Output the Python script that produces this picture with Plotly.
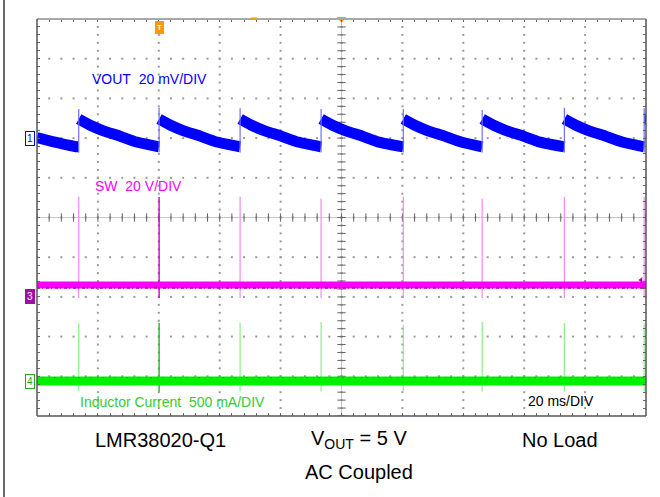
import plotly.graph_objects as go

# ---------------- values read from the scope capture ----------------
# time of each VOUT jump / SW pulse / inductor-current pulse (ms)
jump_times_ms = [13.7, 40.1, 66.7, 93.3, 120.3, 146.2, 173.2, 199.4]
# VOUT before first pulse (ms, mV, AC coupled)
lead_t_ms = [0.0, 5.9, 13.4]
lead_vout_mv = [0.3, -2.0, -4.4]
# VOUT decay after each pulse (offset from pulse, ms) and level (mV)
cycle_offset_ms = [0.0, 3.6, 7.9, 13.5, 19.0, 25.6]
cycle_vout_mv = [9.6, 6.6, 3.8, 1.0, -2.0, -4.4]
vout_spike_mv = [14.7, 15.3, 15.0, 14.7, 14.7, 14.2, 15.3, 15.0]
# SW node (V)
sw_baseline_v = 6.0
sw_spike_top_v = [50.4, 50.3, 50.4, 49.5, 50.4, 49.5, 50.4, 50.4]
sw_spike_bottom_v = -0.5
# inductor current (mA)
il_baseline_ma = 0.0
il_spike_top_ma = [727, 735, 731, 744, 702, 744, 727, 727]
il_spike_bottom_ma = -131

# scope settings
T_END = 200.0            # 10 div x 20 ms/div
CH1_OFF, CH1_SCALE = 2.0, 20.0     # div, mV/div
CH3_OFF, CH3_SCALE = -2.0, 20.0    # div, V/div
CH4_OFF, CH4_SCALE = -4.12, 500.0  # div, mA/div
TRIG_T = 40.3


def ch1(v):
    return CH1_OFF + v / CH1_SCALE


def ch3(v):
    return CH3_OFF + v / CH3_SCALE


def ch4(v):
    return CH4_OFF + v / CH4_SCALE


# ---------------- geometry helpers (pixels of the 660x497 page) ----------------
L, R, T, B = 37, 646, 19, 416
PW, PH = R - L, B - T
PX_DIV_Y = PH / 10.0


def px_t(px):
    return (px - L) / PW * T_END


def py_d(py):
    return 5 - (py - T) / PH * 10


def pxp(px):
    return (px - L) / PW


def pyp(py):
    return (B - py) / PH


fig = go.Figure()

# ---- graticule dots ----
gx, gy = [], []
for k in range(1, 10):
    xv = k * 20.0
    for j in range(0, 51):
        gx.append(xv)
        gy.append(-5 + j * 0.2)
for k in range(-4, 5):
    for j in range(0, 51):
        gx.append(j * 4.0)
        gy.append(float(k))
fig.add_trace(go.Scatter(x=gx, y=gy, mode="markers", hoverinfo="skip",
                         marker=dict(symbol="square", size=2, color="#9a9a9a", line=dict(width=0)),
                         showlegend=False))
# center-line ticks
cx = [j * 4.0 for j in range(51)]
fig.add_trace(go.Scatter(x=cx, y=[0] * len(cx), mode="markers", hoverinfo="skip",
                         marker=dict(symbol="line-ns", size=6, line=dict(width=1, color="#666")),
                         showlegend=False))
cy = [-5 + j * 0.2 for j in range(51)]
fig.add_trace(go.Scatter(x=[100] * len(cy), y=cy, mode="markers", hoverinfo="skip",
                         marker=dict(symbol="line-ew", size=6, line=dict(width=1, color="#666")),
                         showlegend=False))

# ---- SW and inductor-current spikes ----
def spikes(tops, bottom, conv, dim, bright, name):
    xd, yd, xb, yb = [], [], [], []
    for i, (t, top) in enumerate(zip(jump_times_ms, tops)):
        if i == 1:
            xb += [t, t, None]
            yb += [conv(bottom), conv(top), None]
        else:
            xd += [t, t, None]
            yd += [conv(bottom), conv(top), None]
    fig.add_trace(go.Scatter(x=xd, y=yd, mode="lines", line=dict(color=dim, width=1.2),
                             hoverinfo="skip", showlegend=False, name=name))
    fig.add_trace(go.Scatter(x=xb, y=yb, mode="lines", line=dict(color=bright, width=1.4),
                             hoverinfo="skip", showlegend=False, name=name))


spikes(sw_spike_top_v, sw_spike_bottom_v, ch3, "#f08af0", "#cc00cc", "SW")
spikes(il_spike_top_ma, il_spike_bottom_ma, ch4, "#8cec8c", "#22b822", "IL")

# ---- baselines (thick noisy bands) ----
sw_y = ch3(sw_baseline_v)
fig.add_trace(go.Scatter(x=[0, T_END], y=[sw_y] * 2, mode="lines",
                         line=dict(color="#ff00ff", width=7), hoverinfo="skip", showlegend=False))
fig.add_trace(go.Scatter(x=[0, T_END], y=[sw_y - 3.0 / PX_DIV_Y] * 2, mode="lines",
                         line=dict(color="#9a1c9a", width=1.6, dash="3px,2px,1px,3px"),
                         hoverinfo="skip", showlegend=False))
il_y = ch4(il_baseline_ma)
fig.add_trace(go.Scatter(x=[0, T_END], y=[il_y] * 2, mode="lines",
                         line=dict(color="#00f000", width=9), hoverinfo="skip", showlegend=False))
fig.add_trace(go.Scatter(x=[0, T_END], y=[il_y + 3.5 / PX_DIV_Y] * 2, mode="lines",
                         line=dict(color="#28b028", width=1, dash="1px,4px,2px,5px"),
                         hoverinfo="skip", showlegend=False))

# ---- VOUT ----
vx = list(lead_t_ms) + [jump_times_ms[0], None]
vy = [ch1(v) for v in lead_vout_mv] + [ch1(lead_vout_mv[-1]), None]
for i, t0 in enumerate(jump_times_ms):
    t_next = jump_times_ms[i + 1] if i + 1 < len(jump_times_ms) else T_END
    seg_x, seg_y = [], []
    for o, v in zip(cycle_offset_ms[:-1], cycle_vout_mv[:-1]):
        if t0 + o < t_next:
            seg_x.append(t0 + o)
            seg_y.append(ch1(v))
    if i + 1 < len(jump_times_ms):
        seg_x.append(t_next)
        seg_y.append(ch1(cycle_vout_mv[-1]))
    else:
        seg_x.append(T_END)
        seg_y.append(seg_y[-1])
    vx += seg_x + [None]
    vy += seg_y + [None]
fig.add_trace(go.Scatter(x=vx, y=vy, mode="lines", connectgaps=False,
                         line=dict(color="#0000ff", width=11, shape="spline", smoothing=0.6),
                         hoverinfo="skip", showlegend=False))
jx, jy = [], []
for t, sp in zip(jump_times_ms, vout_spike_mv):
    jx += [t, t, None]
    jy += [ch1(cycle_vout_mv[-1]) - 0.14, ch1(sp), None]
fig.add_trace(go.Scatter(x=jx, y=jy, mode="lines", line=dict(color="#6f6fff", width=1.2),
                         hoverinfo="skip", showlegend=False))

# ---- small markers ----
fig.add_trace(go.Scatter(x=[100], y=[5], mode="markers", cliponaxis=False, hoverinfo="skip",
                         marker=dict(symbol="triangle-down", size=8, color="#ff9900"), showlegend=False))
fig.add_trace(go.Scatter(x=[px_t(641)], y=[py_d(280)], mode="markers", cliponaxis=False, hoverinfo="skip",
                         marker=dict(symbol="triangle-left", size=5, color="#a0109f"), showlegend=False))

# ---- frame ----
shapes = [
    dict(type="line", xref="paper", yref="paper", x0=0, x1=1, y0=1, y1=1, line=dict(color="#a8a8a8", width=2)),
    dict(type="line", xref="paper", yref="paper", x0=0, x1=1, y0=0, y1=0, line=dict(color="#555", width=1.5)),
    dict(type="line", xref="paper", yref="paper", x0=0, x1=0, y0=0, y1=1, line=dict(color="#555", width=1.5)),
    dict(type="line", xref="paper", yref="paper", x0=1, x1=1, y0=0, y1=1, line=dict(color="#555", width=1.5)),
    dict(type="line", xref="x", yref="y", x0=100, x1=100, y0=-5, y1=5, line=dict(color="#c8c8c8", width=1), layer="below"),
    dict(type="line", xref="x", yref="y", x0=0, x1=200, y0=0, y1=0, line=dict(color="#c8c8c8", width=1), layer="below"),
    dict(type="line", xref="paper", yref="paper", x0=pxp(4), x1=pxp(4), y0=pyp(497), y1=pyp(0),
         line=dict(color="#6a6a6a", width=2)),
    dict(type="line", xref="paper", yref="paper", x0=pxp(251), x1=pxp(257), y0=pyp(18.5), y1=pyp(18.5),
         line=dict(color="#ff9900", width=2)),
]

FONT = "Liberation Sans, Arial, sans-serif"
ann = []


def txt(text, x, y, color, size, xref="x", yref="y", **kw):
    ann.append(dict(text=text, x=x, y=y, xref=xref, yref=yref, showarrow=False,
                    xanchor="center", yanchor="middle",
                    font=dict(family=FONT, size=size, color=color), **kw))


txt("VOUT\u00a0 20 mV/DIV", px_t(149), py_d(79), "#0000ff", 14)
txt("SW\u00a0 20 V/DIV", px_t(138), py_d(186), "#ff00ff", 14)
txt("Inductor Current\u00a0 500 mA/DIV", px_t(172), py_d(401.5), "#33cc33", 14)
txt("20 ms/DIV", px_t(560.5), py_d(401), "#000000", 14)

txt("LMR38020-Q1", pxp(160), pyp(440), "#000000", 20, xref="paper", yref="paper")
txt("V<sub>OUT</sub> = 5 V", pxp(359), pyp(440), "#000000", 20, xref="paper", yref="paper")
txt("No Load", pxp(560), pyp(440), "#000000", 20, xref="paper", yref="paper")
txt("AC Coupled", pxp(359), pyp(472), "#000000", 20, xref="paper", yref="paper")

# channel markers
ann.append(dict(text="1", x=0, y=CH1_OFF, xref="x", yref="y", xanchor="right", xshift=-2, showarrow=False,
                font=dict(family=FONT, size=10, color="#0000ff"), bgcolor="white",
                bordercolor="#0000ff", borderwidth=1, borderpad=1))
ann.append(dict(text="3", x=0, y=CH3_OFF, xref="x", yref="y", xanchor="right", xshift=-2, showarrow=False,
                font=dict(family=FONT, size=10, color="white"), bgcolor="#a0109f",
                bordercolor="#a0109f", borderwidth=1, borderpad=1))
ann.append(dict(text="4", x=0, y=CH4_OFF, xref="x", yref="y", xanchor="right", xshift=-2, showarrow=False,
                font=dict(family=FONT, size=10, color="#22aa22"), bgcolor="white",
                bordercolor="#22aa22", borderwidth=1, borderpad=1))
ann.append(dict(text="<b>T</b>", x=TRIG_T, y=py_d(27.5), xref="x", yref="y", showarrow=False,
                font=dict(family=FONT, size=8, color="white"), bgcolor="#ff9900",
                bordercolor="#ff9900", borderwidth=1, borderpad=1))

fig.update_layout(
    width=660, height=497,
    margin=dict(l=L, r=660 - R, t=T, b=497 - B),
    paper_bgcolor="white", plot_bgcolor="white",
    showlegend=False,
    shapes=shapes, annotations=ann,
    xaxis=dict(range=[0, T_END], showgrid=False, zeroline=False, showticklabels=False,
               ticks="inside", ticklen=3, tickcolor="#666", tickwidth=1, dtick=4, tick0=0,
               mirror="allticks", showline=False, fixedrange=True),
    yaxis=dict(range=[-5, 5], showgrid=False, zeroline=False, showticklabels=False,
               ticks="inside", ticklen=3, tickcolor="#666", tickwidth=1, dtick=0.2, tick0=0,
               mirror="allticks", showline=False, fixedrange=True),
)

fig.write_html("out.html", config={"displayModeBar": False},
               post_script="document.body.style.margin='0';document.body.style.overflow='hidden';")
